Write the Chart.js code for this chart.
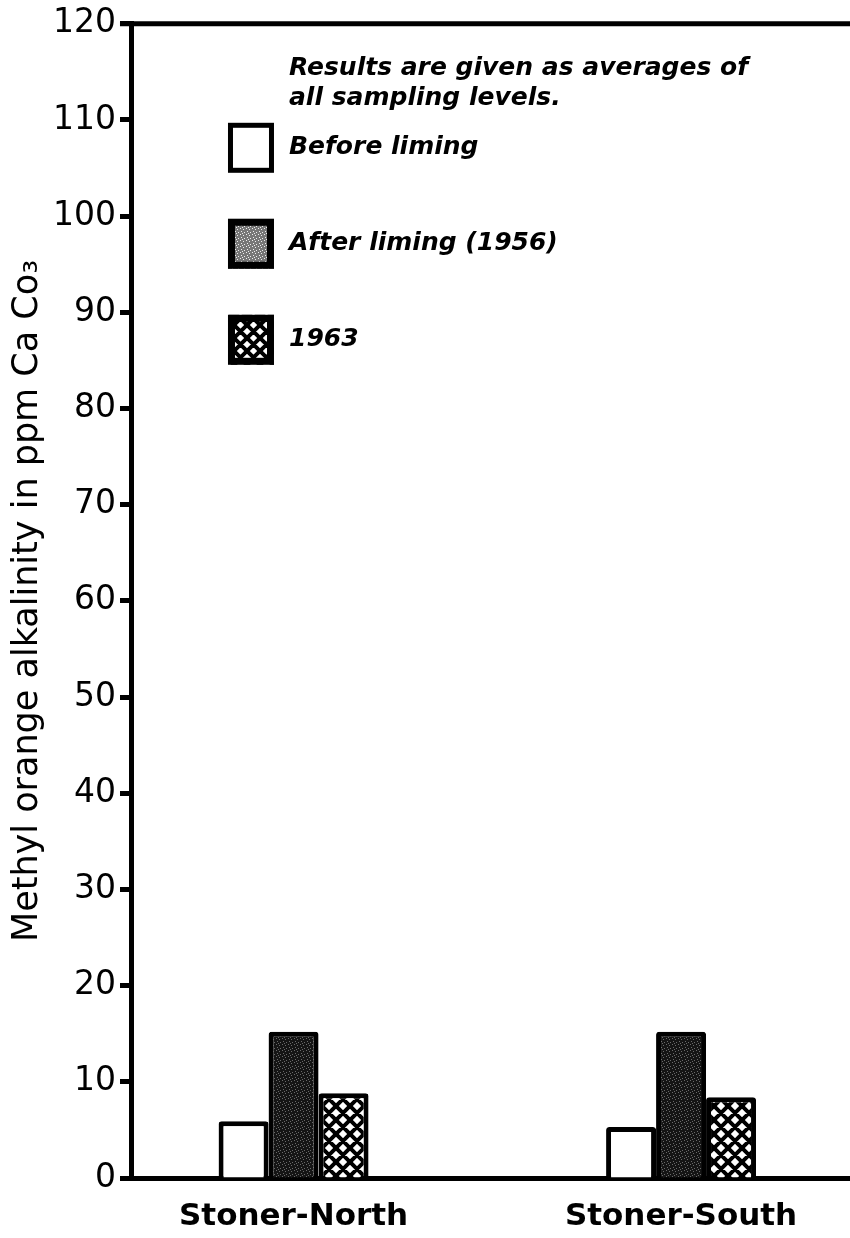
<!DOCTYPE html>
<html>
<head>
<meta charset="utf-8">
<script src="https://cdn.jsdelivr.net/npm/chart.js@4/dist/chart.umd.min.js"></script>
<style>
  html, body { margin: 0; padding: 0; background: #fff; }
</style>
</head>
<body>
<canvas id="myChart" width="850" height="1238"></canvas>
<script>
// data
const categories = ['Stoner-North', 'Stoner-South']
const categoryPos = [0, 1]
const beforeLiming = [5.9, 5.3]
const afterLiming = [15.2, 15.2]
const values1963 = [8.8, 8.4]
const seriesLabels = ['Before liming', 'After liming (1956)', '1963']
const noteLines = ['Results are given as averages of', 'all sampling levels.']
const yAxisTitle = 'Methyl orange alkalinity in ppm Ca Co\u2083'

// fill patterns
function stipple(base, light) {
    const c = document.createElement('canvas')
    c.width = 6
    c.height = 6
    const ctx = c.getContext('2d')
    ctx.fillStyle = base
    ctx.fillRect(0, 0, 6, 6)
    ctx.fillStyle = light
    const dots = [[0, 0], [3, 1], [1, 3], [4, 4], [2, 5]]
    dots.forEach(d => ctx.fillRect(d[0], d[1], 1, 1))
    return ctx.createPattern(c, 'repeat')
}

function crosshatch(s, w) {
    const c = document.createElement('canvas')
    c.width = s
    c.height = s
    const ctx = c.getContext('2d')
    ctx.fillStyle = '#fff'
    ctx.fillRect(0, 0, s, s)
    ctx.strokeStyle = '#000'
    ctx.lineWidth = w
    ctx.beginPath()
    for (let o = -s; o <= s; o += s) {
        ctx.moveTo(o - 1, -1)
        ctx.lineTo(o + s + 1, s + 1)
        ctx.moveTo(o + s + 1, -1)
        ctx.lineTo(o - 1, s + 1)
    }
    ctx.stroke()
    return ctx.createPattern(c, 'repeat')
}

const fills = ['#ffffff', stipple('#151515', '#6a6a6a'), crosshatch(14, 4)]
const legendFills = ['#ffffff', stipple('#777', '#eee'), crosshatch(13, 4)]

function points(vals) {
    return categoryPos.map((x, i) => ({x: x, y: vals[i]}))
}

const extras = {
    id: 'extras',
    afterDraw(chart) {
        const ctx = chart.ctx
        const area = chart.chartArea
        ctx.save()
        // top frame line
        ctx.strokeStyle = '#000'
        ctx.lineWidth = 5
        ctx.beginPath()
        ctx.moveTo(area.left - 12, area.top)
        ctx.lineTo(area.right, area.top)
        ctx.stroke()

        // note
        ctx.fillStyle = '#000'
        ctx.font = 'italic bold 25px "DejaVu Sans"'
        ctx.textBaseline = 'middle'
        ctx.textAlign = 'left'
        const tx = area.left + 157
        ctx.fillText(noteLines[0], tx, area.top + 45)
        ctx.fillText(noteLines[1], tx, area.top + 75)

        // legend entries
        const rows = [124, 220, 316]
        chart.data.datasets.forEach((ds, i) => {
            const y = area.top + rows[i]
            const bx = area.left + 96
            ctx.fillStyle = legendFills[i]
            ctx.fillRect(bx, y - 25, 46, 50)
            ctx.lineWidth = i == 0 ? 5 : 7
            ctx.strokeStyle = '#000'
            const h = ctx.lineWidth / 2
            ctx.strokeRect(bx + h, y - 25 + h, 46 - 2 * h, 50 - 2 * h)
            ctx.fillStyle = '#000'
            ctx.fillText(ds.label, tx, y)
        })
        ctx.restore()
    }
}

new Chart(document.getElementById('myChart'), {
    type: 'bar',
    data: {
        datasets: [
            {label: seriesLabels[0], data: points(beforeLiming), backgroundColor: fills[0]},
            {label: seriesLabels[1], data: points(afterLiming), backgroundColor: fills[1]},
            {label: seriesLabels[2], data: points(values1963), backgroundColor: fills[2]}
        ]
    },
    options: {
        responsive: false,
        devicePixelRatio: 1,
        animation: false,
        layout: {padding: {top: 2, right: 0, bottom: -17, left: 7}},
        datasets: {
            bar: {
                borderColor: '#000',
                borderWidth: 5,
                borderSkipped: 'start',
                borderRadius: 3,
                categoryPercentage: 0.387,
                barPercentage: 1
            }
        },
        plugins: {
            legend: {display: false},
            tooltip: {enabled: false}
        },
        scales: {
            x: {
                type: 'linear',
                offset: false,
                min: -0.417,
                max: 1.436,
                afterBuildTicks: axis => {
                    axis.ticks = categoryPos.map(v => ({value: v}))
                },
                ticks: {
                    callback: (v, i) => categories[i],
                    font: {family: 'DejaVu Sans', size: 31, weight: 'bold', lineHeight: 1},
                    color: '#000',
                    padding: 23,
                    maxRotation: 0
                },
                grid: {drawOnChartArea: false, drawTicks: false},
                border: {color: '#000', width: 5}
            },
            y: {
                min: 0,
                max: 120,
                ticks: {
                    stepSize: 10,
                    font: {family: 'DejaVu Sans', size: 33},
                    color: '#000',
                    padding: 4
                },
                grid: {
                    drawOnChartArea: false,
                    tickLength: 12,
                    tickColor: '#000',
                    tickWidth: 5
                },
                border: {color: '#000', width: 5},
                title: {
                    display: true,
                    text: yAxisTitle,
                    font: {family: 'DejaVu Sans', size: 35},
                    color: '#000',
                    padding: {top: 0, bottom: 0}
                }
            }
        }
    },
    plugins: [extras]
})
</script>
</body>
</html>
